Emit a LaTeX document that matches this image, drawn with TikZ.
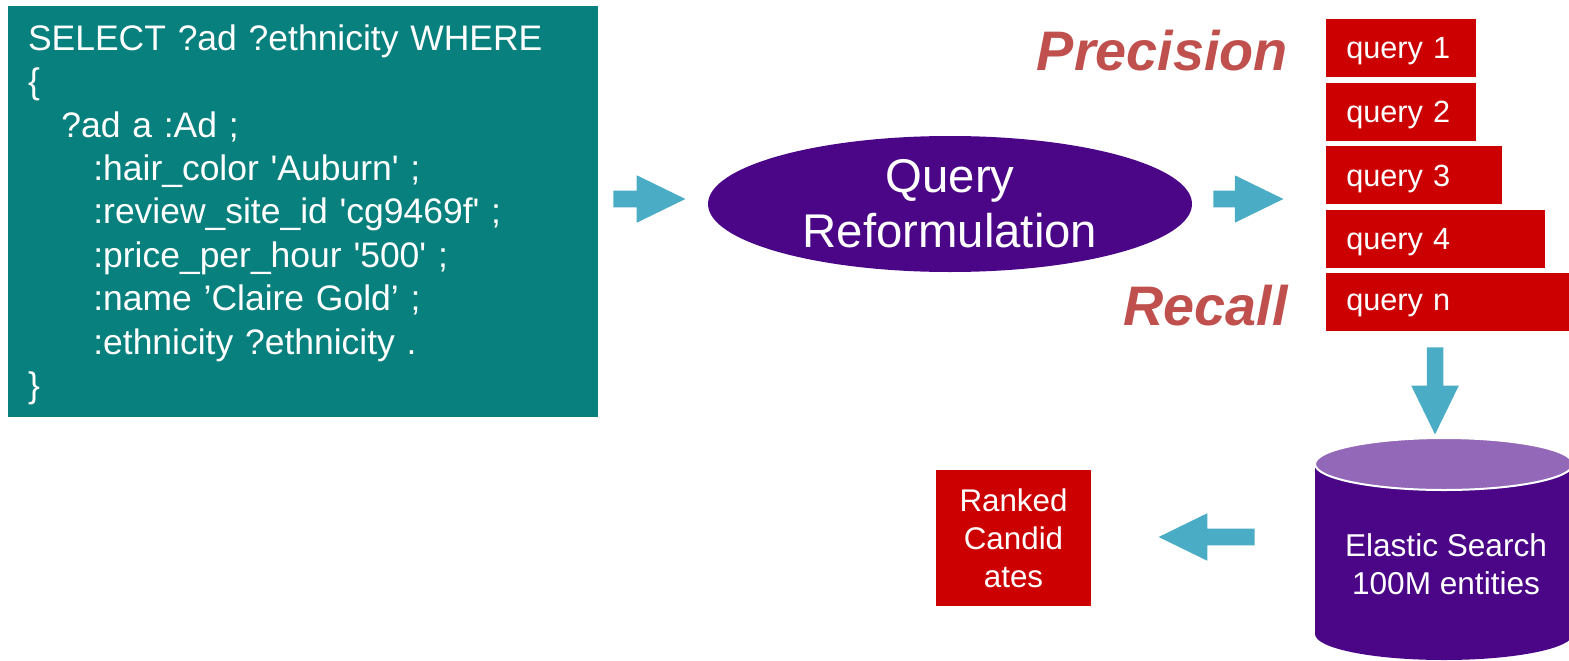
\documentclass[tikz,border=0pt]{standalone}
\usepackage{fontspec}
\setmainfont{Liberation Sans}
\usetikzlibrary{shapes.geometric,shapes.arrows,positioning}

\definecolor{codeteal}{RGB}{8,128,126}
\definecolor{qrpurple}{RGB}{75,6,136}
\definecolor{eslight}{RGB}{148,104,184}
\definecolor{queryred}{RGB}{204,0,0}
\definecolor{prred}{RGB}{192,80,77}
\definecolor{arrowblue}{RGB}{75,172,198}

\begin{document}
\begin{tikzpicture}[x=0.75pt,y=-0.75pt,
			code node/.style={rectangle,fill=codeteal,text=white,align=left,
				font=\fontsize{26.6pt}{32.55pt}\selectfont,
				minimum width=442.5pt,minimum height=308.25pt,text width=412.5pt,inner xsep=15pt},
			qr node/.style={ellipse,fill=qrpurple,text=white,align=center,inner sep=0pt,
				font=\fontsize{35.5pt}{41.25pt}\selectfont,
				minimum width=363pt,minimum height=102pt},
			pr node/.style={text=prred,inner sep=0pt,
				font=\fontsize{41.8pt}{48pt}\selectfont\bfseries\itshape},
			query node/.style={rectangle,fill=queryred,text=white,align=left,
				font=\fontsize{23pt}{27pt}\selectfont,anchor=north west,
				minimum height=43.5pt,inner xsep=15pt,inner ysep=0pt,text depth=0pt},
			rank node/.style={rectangle,fill=queryred,text=white,align=center,inner sep=0pt,
				font=\fontsize{23.5pt}{28.5pt}\selectfont,
				minimum width=116.25pt,minimum height=102pt},
			es node/.style={text=white,align=center,inner sep=0pt,
				font=\fontsize{23.7pt}{28.5pt}\selectfont},
			block arrow/.style={single arrow,fill=arrowblue,inner xsep=0pt,inner ysep=6pt,
				single arrow head extend=11.6pt,single arrow tip angle=52,anchor=tip}
			]
			\useasboundingbox (0,0) rectangle (1569,660);
			
			\node[code node] (SQ) at (303,211.5) {\rule{0pt}{24pt}SELECT ?ad ?ethnicity WHERE\\
				\{\\
				\hspace*{25pt}?ad a :Ad ;\\
				\hspace*{49pt}:hair\_color \textquotesingle Auburn\textquotesingle\ ;\\
				\hspace*{49pt}:review\_site\_id \textquotesingle cg9469f\textquotesingle\ ;\\
				\hspace*{49pt}:price\_per\_hour \textquotesingle 500\textquotesingle\ ;\\
				\hspace*{49pt}:name ’Claire Gold’ ;\\
				\hspace*{49pt}:ethnicity ?ethnicity .\\
				\}};
			\node[qr node] (QR) at (950,204) {Query\\Reformulation};
			
			\node[pr node,anchor=base east] (PR) at (1288,70) {Precision};
			\node[pr node,anchor=base east] (RC) at (1288,325) {Recall};
			
			\node[query node,minimum width=112.5pt,text width=82.5pt] (Q1) at (1326,19) {query 1};
			\node[query node,minimum width=112.5pt,text width=82.5pt,below=3.75pt of Q1.south west,anchor=north west] (Q2) {query 2};
			\node[query node,minimum width=132pt,text width=102pt,below=3.75pt of Q2.south west,anchor=north west] (Q3) {query 3};
			\node[query node,minimum width=164.25pt,text width=134.25pt,below=3.75pt of Q3.south west,anchor=north west] (Q4) {query 4};
			\node[query node,minimum width=195pt,text width=165pt,below=3.75pt of Q4.south west,anchor=north west] (QN) {query n};
			
			% elastic search cylinder
			\fill[qrpurple] (1315,464) -- (1315,634) arc[start angle=180,end angle=0,x radius=129,y radius=26] -- (1573,464) -- cycle;
			\filldraw[fill=eslight,draw=white,line width=1.5pt] (1444,464) ellipse[x radius=129,y radius=26];
			\node[es node] (ES) at (1446,563.7) {Elastic Search\\100M entities};
			
			\node[rank node] (RK) at (1013.5,538) {Ranked\\Candid\\ates};
			
			% block arrows
			\node[block arrow,minimum height=54pt] (A1) at (686,199) {};
			\node[block arrow,minimum height=52.5pt] (A2) at (1284,199) {};
			\node[block arrow,minimum height=65.25pt,rotate=-90] (A3) at (1435,435) {};
			\node[block arrow,minimum height=72pt,rotate=180] (A4) at (1158,537) {};
			
		\end{tikzpicture}
\end{document}
